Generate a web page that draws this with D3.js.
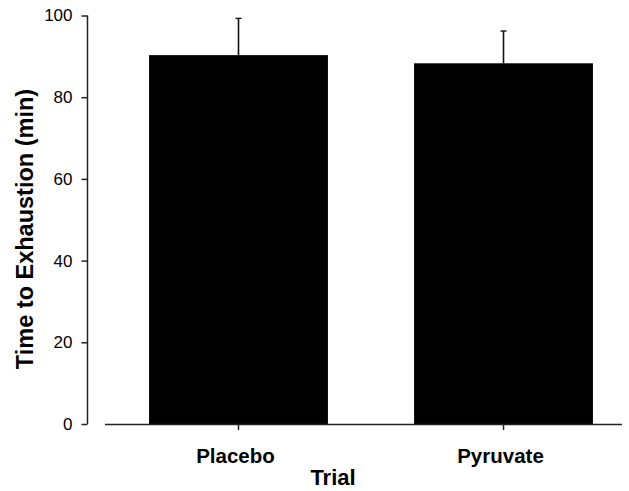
<!DOCTYPE html>
<html>
<head>
<meta charset="utf-8">
<script src="https://cdn.jsdelivr.net/npm/d3@7"></script>
<style>
  body { margin: 0; background: #fff; }
  text { font-family: "Liberation Sans", Arial, sans-serif; fill: #000; }
</style>
</head>
<body>
<div id="chart"></div>
<script>
// Data
const trials = ["Placebo", "Pyruvate"];
const meanTime = [90.3, 88.3];
const sdTime = [9.0, 7.9];
const yTicks = [0, 20, 40, 60, 80, 100];

const W = 629, H = 491;

const svg = d3.select("#chart")
    .append("svg")
    .attr("width", W)
    .attr("height", H);

// Scales
const x = d3.scaleBand()
    .domain(trials)
    .range([106, 636])
    .paddingInner(0.325)
    .paddingOuter(0.1625);

const y = d3.scaleLinear()
    .domain([0, 100])
    .range([424, 15.5]);

// Bars
svg.selectAll(".bar")
    .data(trials)
    .enter()
    .append("rect")
    .attr("class", "bar")
    .attr("x", d => x(d))
    .attr("width", x.bandwidth())
    .attr("y", (d, i) => y(meanTime[i]))
    .attr("height", (d, i) => y(0) - y(meanTime[i]))
    .style("fill", "#000");

// Upper error bars (SD)
const err = svg.selectAll(".err")
    .data(trials)
    .enter()
    .append("g")
    .attr("class", "err");

err.append("line")
    .attr("x1", d => x(d) + x.bandwidth() / 2)
    .attr("x2", d => x(d) + x.bandwidth() / 2)
    .attr("y1", (d, i) => y(meanTime[i]))
    .attr("y2", (d, i) => y(meanTime[i] + sdTime[i]))
    .style("stroke", "#111")
    .style("stroke-width", 1.6);

err.append("line")
    .attr("x1", d => x(d) + x.bandwidth() / 2 - 3)
    .attr("x2", d => x(d) + x.bandwidth() / 2 + 3)
    .attr("y1", (d, i) => y(meanTime[i] + sdTime[i]))
    .attr("y2", (d, i) => y(meanTime[i] + sdTime[i]))
    .style("stroke", "#111")
    .style("stroke-width", 1.4);

// Y axis
const yAxis = svg.append("g")
    .attr("transform", "translate(87.5,0)")
    .call(d3.axisLeft(y).tickValues(yTicks).tickSize(6).tickPadding(9));
yAxis.select(".domain").attr("d", `M0,${y(100)}V${y(0)}`).style("stroke", "#222").style("stroke-width", 1.5);
yAxis.selectAll(".tick line").style("stroke", "#222").style("stroke-width", 1.5);
yAxis.selectAll(".tick text")
    .style("font-family", "'Liberation Sans', Arial, sans-serif")
    .style("font-size", "17px")
    .attr("fill", "#111");

// X axis line (starts a bit right of the y axis, as in the original)
svg.append("line")
    .attr("x1", 105)
    .attr("x2", 622)
    .attr("y1", y(0) + 0.5)
    .attr("y2", y(0) + 0.5)
    .style("stroke", "#222")
    .style("stroke-width", 1.5);

// X ticks at bar centres
svg.selectAll(".xtick")
    .data(trials)
    .enter()
    .append("line")
    .attr("x1", d => x(d) + x.bandwidth() / 2)
    .attr("x2", d => x(d) + x.bandwidth() / 2)
    .attr("y1", y(0))
    .attr("y2", y(0) + 6)
    .style("stroke", "#222")
    .style("stroke-width", 1.5);

// X tick labels
svg.selectAll(".xlabel")
    .data(trials)
    .enter()
    .append("text")
    .attr("x", d => x(d) + x.bandwidth() / 2 - 3)
    .attr("y", 463)
    .style("text-anchor", "middle")
    .style("font-weight", "bold")
    .style("font-size", "20.5px")
    .text(d => d);

// Axis titles
svg.append("text")
    .attr("x", 333)
    .attr("y", 485)
    .style("text-anchor", "middle")
    .style("font-weight", "bold")
    .style("font-size", "22px")
    .text("Trial");

svg.append("text")
    .attr("transform", "translate(33,229) rotate(-90)")
    .style("text-anchor", "middle")
    .style("font-weight", "bold")
    .style("font-size", "23.5px")
    .text("Time to Exhaustion (min)");
</script>
</body>
</html>
